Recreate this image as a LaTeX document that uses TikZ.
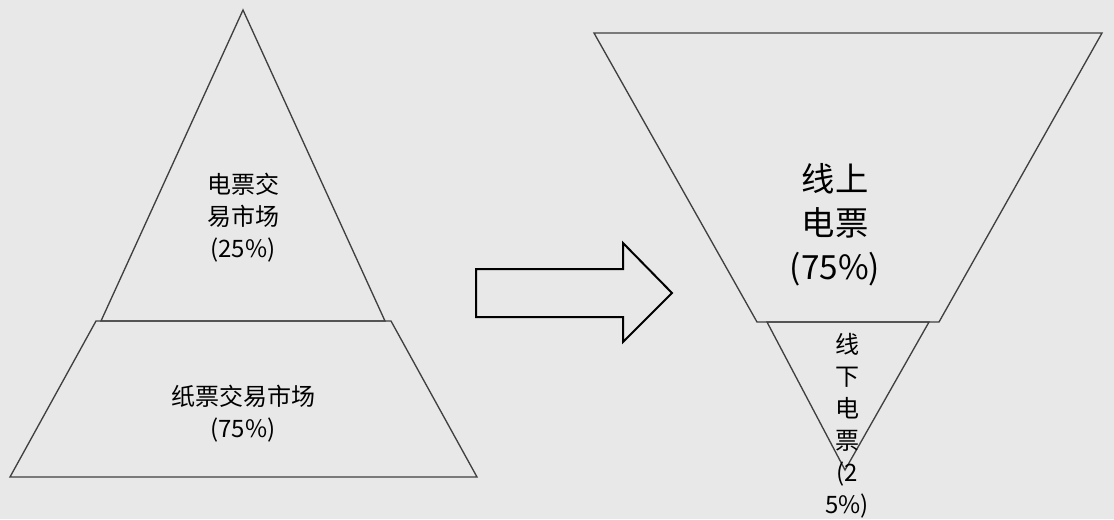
\documentclass[tikz,border=0pt]{standalone}
\usepackage{fontspec}
\setmainfont{Noto Sans CJK SC}
\definecolor{bgcol}{RGB}{232,232,232}
\definecolor{edgecol}{RGB}{64,64,64}

\begin{document}
\begin{tikzpicture}[x=0.75pt,y=-0.75pt,
  part/.style={draw=edgecol,line width=1pt},
  smalltext/.style={align=center,inner sep=0pt,font=\fontsize{18}{24}\selectfont},
  bigtext/.style={align=center,inner sep=0pt,font=\fontsize{25}{33}\selectfont}]
\fill[bgcol] (0,0) rectangle (1114,519);
\useasboundingbox (0,0) rectangle (1114,519);

% old market: pyramid
\draw[part] (243,10) -- (385,321) -- (101,321) -- cycle;
\draw[part] (96,321) -- (391,321) -- (477,477) -- (10,477) -- cycle;
\node[smalltext] (elec) at (243,218) {电票交\\易市场\\(25\%)};
\node[smalltext] (paper) at (243,414) {纸票交易市场\\(75\%)};

% block arrow
\draw[black,line width=1.5pt] (476,269) -- (623,269) -- (623,243) -- (672,293)
  -- (623,342) -- (623,317) -- (476,317) -- cycle;

% new market: funnel
\draw[part] (594,33) -- (1102,33) -- (939,322) -- (757,322) -- cycle;
\draw[part] (767,322) -- (929,322) -- (845,470) -- cycle;
\node[bigtext] (online) at (835,225) {线上\\电票\\(75\%)};
\node[smalltext] (offline) at (847,426) {线\\下\\电\\票\\(2\\5\%)};
\end{tikzpicture}
\end{document}
